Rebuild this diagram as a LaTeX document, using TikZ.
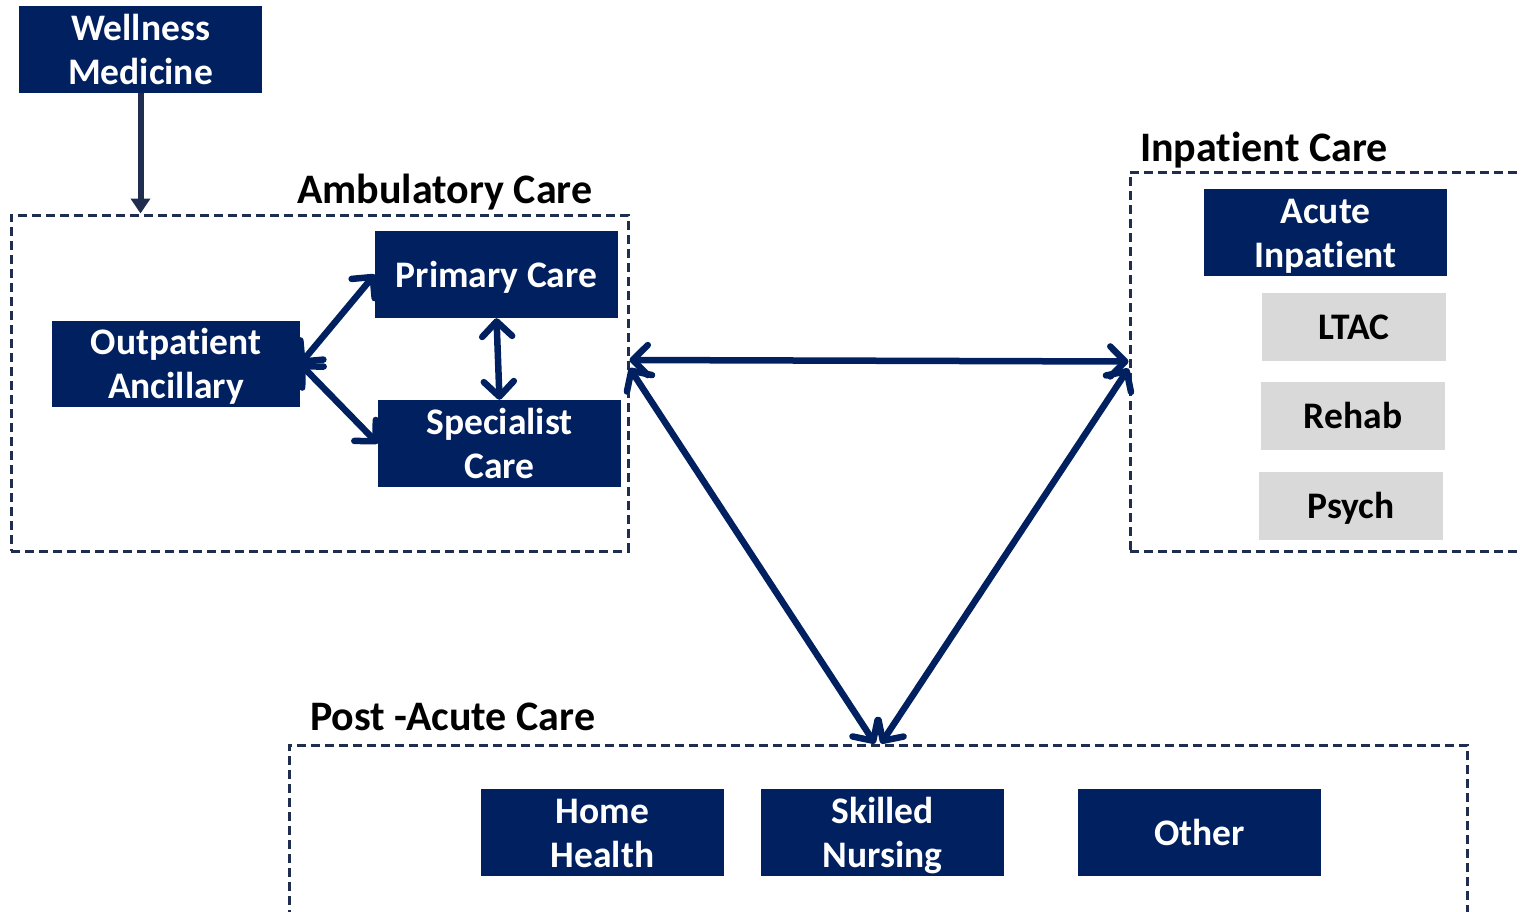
\documentclass[tikz,border=0pt]{standalone}
\usepackage{fontspec}
\setmainfont{Carlito}[Ligatures=NoCommon]
\usetikzlibrary{arrows.meta,calc}
\definecolor{navy}{HTML}{002060}
\definecolor{slate}{HTML}{1F2D4F}
\definecolor{lgray}{HTML}{D9D9D9}
\newcommand\bst{\rule[-8.5pt]{0pt}{42.5pt}}
\begin{document}
\begin{tikzpicture}[x=1pt,y=-1pt,
  box/.style={fill=navy, text=white, font=\fontsize{37.5}{44}\selectfont\bfseries,
    minimum width=243pt, minimum height=87pt, align=center, inner sep=0pt},
  gbox/.style={fill=lgray, text=black, font=\fontsize{37.5}{44}\selectfont\bfseries,
    minimum width=184pt, minimum height=68pt, align=center, inner sep=0pt},
  group/.style={draw=slate, line width=3pt, dash pattern=on 9pt off 5pt,
    inner sep=0pt},
  title/.style={font=\fontsize{42}{50}\selectfont\bfseries, anchor=base west, inner sep=0pt},
  barb/.tip={Straight Barb[length=15pt,width=30pt,line width=6.5pt,round]},
  link/.style={draw=navy, line width=6.5pt, barb-barb},
  feed/.style={draw=slate, line width=6pt, -{Triangle[length=15pt,width=19pt]}}
]
\useasboundingbox (0,0) rectangle (1522,911);
\clip (0,0) rectangle (1522,911);

% groups
\node[group, minimum width=617pt, minimum height=336pt] (amb) at (319.5,383) {};
\node[group, minimum width=410pt, minimum height=379pt] (inp) at (1335,361.5) {};
\node[group, minimum width=1178pt, minimum height=195pt] (post) at (878,842.5) {};

% titles
\node[title] (tamb) at (297,203) {Ambulatory Care};
\node[title] (tinp) at (1140,161) {Inpatient Care};
\node[title] (tpost) at (310,730) {Post -Acute Care};

% boxes
\node[box] (well) at (140.5,49.5) {\bst Wellness\\\bst Medicine};
\node[box, minimum width=248pt, minimum height=86pt] (out) at (176,364) {\bst Outpatient\\\bst Ancillary};
\node[box] (prim) at (496.5,274.5) {\bst Primary Care};
\node[box] (spec) at (499.5,443.5) {\bst Specialist\\\bst Care};

\node[box] (acute) at (1325.5,232.5) {\bst Acute\\\bst Inpatient};
\node[gbox] (ltac) at (1354,327) {\bst LTAC};
\node[gbox] (rehab) at (1353,416) {\bst Rehab};
\node[gbox] (psych) at (1351,506) {\bst Psych};

\node[box] (home) at (602.5,832.5) {\bst Home\\\bst Health};
\node[box] (skill) at (882.5,832.5) {\bst Skilled\\\bst Nursing};
\node[box] (other) at (1199.5,832.5) {\bst Other};

% connectors
\draw[feed] (well.south) -- (well.south |- amb.north);
\draw[link] (out.east) -- (prim.west);
\draw[link] (out.east) -- (spec.west);
\draw[link] (prim.south) -- (spec.north);
\draw[link] ([yshift=23pt]amb.east) -- (inp.west);
\draw[link] ([yshift=15pt]amb.east) -- ([xshift=-3pt]post.north);
\draw[link] ([yshift=-7pt]inp.west) -- ([xshift=3pt]post.north);
\end{tikzpicture}
\end{document}
